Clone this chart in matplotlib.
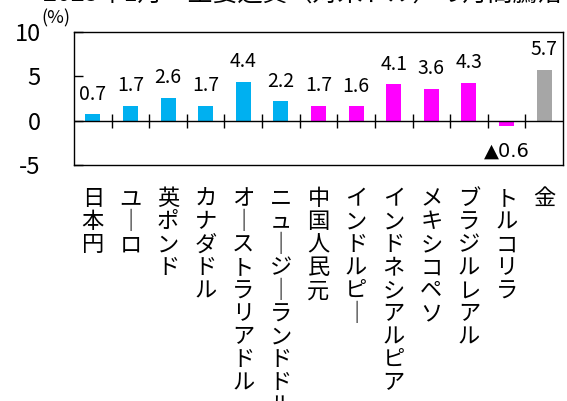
import matplotlib
matplotlib.use("Agg")
import matplotlib.pyplot as plt
import numpy as np

plt.rcParams['font.family'] = ['Noto Sans CJK JP', 'DejaVu Sans']

# data
currencies = ["日本円", "ユーロ", "英ポンド", "カナダドル", "オーストラリアドル",
              "ニュージーランドドル", "中国人民元", "インドルピー", "インドネシアルピア",
              "メキシコペソ", "ブラジルレアル", "トルコリラ", "金"]
changes = [0.7, 1.7, 2.6, 1.7, 4.4, 2.2, 1.7, 1.6, 4.1, 3.6, 4.3, -0.6, 5.7]
groups = ["dev"] * 6 + ["emg"] * 6 + ["gold"]
y_ticks = [-5, 0, 5, 10]

group_colors = {"dev": "#00B0F0", "emg": "#FF00FF", "gold": "#A6A6A6"}
colors = [group_colors[g] for g in groups]

W, H = 567, 401
fig = plt.figure(figsize=(W / 100, H / 100), dpi=100)
ax = fig.add_axes([74 / W, 1 - 165 / H, (563 - 74) / W, (165 - 32) / H])

x = np.arange(len(currencies))
ax.bar(x, changes, width=0.4, color=colors, zorder=2)

# zero line with category-boundary ticks crossing it
ax.axhline(0, color="black", lw=1.0, zorder=3)
bounds = np.arange(len(currencies) + 1) - 0.5
ax.vlines(bounds[1:-1], -0.8, 0.8, color="black", lw=1.0, zorder=3)

# value labels
for xi, v in zip(x, changes):
    if v >= 0:
        ax.annotate(f"{v:.1f}", (xi, v), xytext=(0, 14.5), textcoords="offset points",
                    ha="center", va="center", fontsize=14)
    else:
        ax.annotate(f"▲{abs(v):.1f}", (xi, v), xytext=(0, -18), textcoords="offset points",
                    ha="center", va="center", fontsize=14,
                    family=['DejaVu Sans', 'Noto Sans CJK JP'])

ax.set_xlim(-0.5, len(currencies) - 0.5)
ax.set_ylim(-5, 10)
ax.set_yticks(y_ticks)
ax.set_yticklabels([str(t) for t in y_ticks], fontsize=17)
ax.tick_params(axis="y", direction="in", length=6.5, width=1.0, pad=24)

def vertical(s):
    return "\n".join("｜" if c == "ー" else c for c in s)

ax.set_xticks(x)
ax.set_xticklabels([vertical(c) for c in currencies], fontsize=16, linespacing=1.0)
ax.tick_params(axis="x", length=0, pad=16)

for sp in ax.spines.values():
    sp.set_linewidth(1.0)

fig.text(56 / W, 1 - 9 / H, "(%)", ha="center", va="top", fontsize=13)
fig.text(43 / W, 1 - 7 / H, "2025年1月　主要通貨（対米ドル）の月間騰落率",
         ha="left", va="bottom", fontsize=18)

fig.savefig("out.png", dpi=100)
